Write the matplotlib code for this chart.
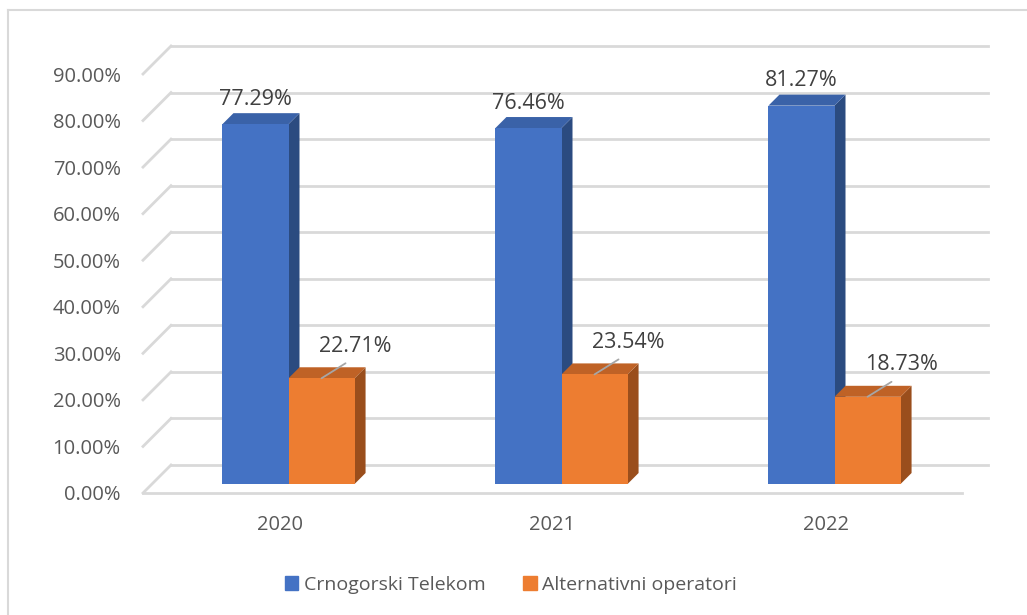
import matplotlib
matplotlib.use("Agg")
import matplotlib.pyplot as plt
from matplotlib.patches import Polygon, Patch
from matplotlib.lines import Line2D

years = ['2020', '2021', '2022']
telekom = [77.29, 76.46, 81.27]
alternativni = [22.71, 23.54, 18.73]
series_names = ['Crnogorski Telekom', 'Alternativni operatori']
yticks = [0, 10, 20, 30, 40, 50, 60, 70, 80, 90]

# face colours: front, top, side
blue = ('#4472C4', '#3A62A8', '#2B4B80')
orange = ('#ED7D31', '#BF6226', '#9A4E1C')
grid_col = '#D9D9D9'
text_col = '#595959'
font = ['Open Sans', 'DejaVu Sans']

fig = plt.figure(figsize=(10.27, 6.15), dpi=100)
W, H = 1027, 615
ax = fig.add_axes([143 / W, (H - 493) / H, 819 / W, 419 / H])
ax.set_xlim(0, 3)
ax.set_ylim(0, 90)
for s in ax.spines.values():
    s.set_visible(False)

# data units per pixel
SX = 3 / 819
SY = 90 / 419
wall = 28      # depth of the floor / back wall in px
shift = 9      # how far back the bars sit
depth = 11     # depth of a bar
bw = 0.242     # bar width in category units

# back wall gridlines and left wall diagonals
for t in yticks:
    ax.add_line(Line2D([wall * SX, 845 * SX], [t + wall * SY, t + wall * SY],
                       color=grid_col, lw=2, clip_on=False, zorder=0))
    ax.add_line(Line2D([0, wall * SX], [t, t + wall * SY],
                       color=grid_col, lw=2, clip_on=False, zorder=0))
ax.add_line(Line2D([0, 3], [0, 0], color=grid_col, lw=2, clip_on=False, zorder=0))


def bar3d(x0, h, cols):
    x0 = x0 + shift * SX
    x1 = x0 + bw
    b = shift * SY
    top = b + h
    dx, dy = depth * SX, depth * SY
    ax.add_patch(Polygon([(x1, b), (x1, top), (x1 + dx, top + dy), (x1 + dx, b + dy)],
                         closed=True, fc=cols[2], ec='none', clip_on=False, zorder=2))
    ax.add_patch(Polygon([(x0, top), (x1, top), (x1 + dx, top + dy), (x0 + dx, top + dy)],
                         closed=True, fc=cols[1], ec='none', clip_on=False, zorder=2))
    ax.bar(x0, h, width=bw, bottom=b, align='edge', color=cols[0], zorder=3, clip_on=False)
    return (x0 + x1) / 2, top


for i in range(len(years)):
    cx, ty = bar3d(i + 0.5 - bw, telekom[i], blue)
    ax.annotate(f'{telekom[i]:.2f}%', (cx, ty), xytext=(0, 25), textcoords='offset pixels',
                ha='center', va='center', fontsize=15.5, color='#404040', family=font)
    cx, ty = bar3d(i + 0.5, alternativni[i], orange)
    ax.annotate(f'{alternativni[i]:.2f}%', (cx, ty), xytext=(34, 32), textcoords='offset pixels',
                ha='center', va='center', fontsize=15.5, color='#404040', family=font)
    # leader line
    ax.annotate('', (cx, ty), xytext=(24, 15), textcoords='offset pixels',
                arrowprops=dict(arrowstyle='-', color='#A6A6A6', lw=1.3,
                                shrinkA=0, shrinkB=0), zorder=4)

ax.set_yticks(yticks)
ax.set_yticklabels([f'{t:.2f}%' for t in yticks])
ax.set_xticks([0.5, 1.5, 2.5])
ax.set_xticklabels(years)
ax.tick_params(axis='y', length=0, pad=16, labelsize=14.5, labelcolor=text_col)
ax.tick_params(axis='x', length=0, pad=16, labelsize=14.5, labelcolor=text_col)
for lab in ax.get_xticklabels() + ax.get_yticklabels():
    lab.set_family(font)

handles = [Patch(color=blue[0]), Patch(color=orange[0])]
fig.legend(handles, series_names, loc='center', bbox_to_anchor=(511 / W, 1 - 585 / H),
           ncol=2, frameon=False, handlelength=0.7, handleheight=0.7, handletextpad=0.3,
           columnspacing=1.9, prop={'family': font, 'size': 14}, labelcolor=text_col)

# chart border (cut at the right and bottom edge)
fig.add_artist(Line2D([8 / W, 1], [1 - 10 / H, 1 - 10 / H], color=grid_col, lw=1.5,
                      transform=fig.transFigure))
fig.add_artist(Line2D([8 / W, 8 / W], [0, 1 - 10 / H], color=grid_col, lw=1.5,
                      transform=fig.transFigure))

fig.savefig('out.png', dpi=100)
